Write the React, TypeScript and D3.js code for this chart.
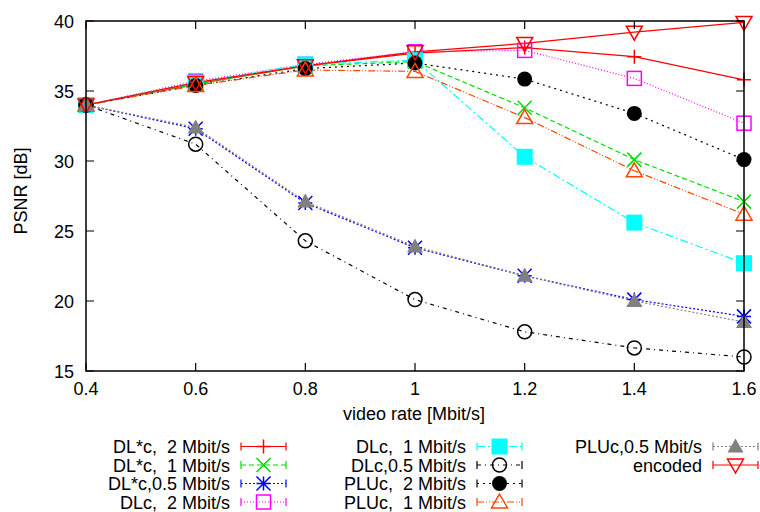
import React from 'react';
import * as d3 from 'd3';

const rates = [0.4, 0.6, 0.8, 1.0, 1.2, 1.4, 1.6];
const xTicks = [0.4, 0.6, 0.8, 1, 1.2, 1.4, 1.6];
const yTicks = [15, 20, 25, 30, 35, 40];

const dlStar2 = [34, 35.5, 36.8, 37.7, 38.1, 37.45, 35.8];
const dlStar1 = [34, 35.5, 36.8, 37.1, 33.8, 30.1, 27.1];
const dlStar05 = [34, 32.3, 27.0, 23.8, 21.8, 20.1, 18.9];
const dl2 = [34, 35.7, 36.9, 37.8, 37.9, 35.9, 32.7];
const dl1 = [34, 35.6, 36.9, 37.2, 30.3, 25.6, 22.7];
const dl05 = [34, 31.2, 24.3, 20.1, 17.8, 16.65, 16.0];
const plu2 = [34, 35.4, 36.6, 37.0, 35.85, 33.4, 30.1];
const plu1 = [34, 35.4, 36.5, 36.4, 33.1, 29.3, 26.2];
const plu05 = [34, 32.4, 27.1, 23.9, 21.8, 20.0, 18.5];
const encoded = [34, 35.6, 36.8, 37.8, 38.4, 39.2, 39.9];

type Series = { name: string; values: number[]; color: string; dash: string; marker: string };

const series: Series[] = [
  { name: 'DL*c,  2 Mbit/s', values: dlStar2, color: '#ff0000', dash: '', marker: 'plus' },
  { name: 'DL*c,  1 Mbit/s', values: dlStar1, color: '#00dd00', dash: '5,3', marker: 'cross' },
  { name: 'DL*c,0.5 Mbit/s', values: dlStar05, color: '#0000ff', dash: '2,2', marker: 'star' },
  { name: 'DLc,  2 Mbit/s', values: dl2, color: '#ff00ff', dash: '1,2', marker: 'square' },
  { name: 'DLc,  1 Mbit/s', values: dl1, color: '#00ffff', dash: '8,3,2,3', marker: 'fsquare' },
  { name: 'DLc,0.5 Mbit/s', values: dl05, color: '#000000', dash: '4,4,1,4', marker: 'circle' },
  { name: 'PLUc,  2 Mbit/s', values: plu2, color: '#000000', dash: '2,4', marker: 'fcircle' },
  { name: 'PLUc,  1 Mbit/s', values: plu1, color: '#ff4500', dash: '7,2,1,2,1,2', marker: 'triangle' },
  { name: 'PLUc,0.5 Mbit/s', values: plu05, color: '#808080', dash: '2,2', marker: 'ftriangle' },
  { name: 'encoded', values: encoded, color: '#ff0000', dash: '', marker: 'dtriangle' },
];

const margin = { left: 86, right: 16, top: 21, bottom: 141 };
const W = 760;
const H = 512;

const Marker = ({ kind, x, y, color }: { kind: string; x: number; y: number; color: string }) => {
  const r = 7;
  const sw = 1.5;
  switch (kind) {
    case 'plus':
      return <path d={`M${x - r},${y}H${x + r}M${x},${y - r}V${y + r}`} stroke={color} strokeWidth={sw} />;
    case 'cross':
      return <path d={`M${x - r},${y - r}L${x + r},${y + r}M${x - r},${y + r}L${x + r},${y - r}`} stroke={color} strokeWidth={sw} />;
    case 'star':
      return (
        <path
          d={`M${x - r},${y}H${x + r}M${x},${y - r}V${y + r}M${x - r},${y - r}L${x + r},${y + r}M${x - r},${y + r}L${x + r},${y - r}`}
          stroke={color}
          strokeWidth={sw}
        />
      );
    case 'square':
      return <rect x={x - r} y={y - r} width={2 * r} height={2 * r} fill="none" stroke={color} strokeWidth={sw} />;
    case 'fsquare':
      return <rect x={x - r - 1} y={y - r - 1} width={2 * r + 2} height={2 * r + 2} fill={color} />;
    case 'circle':
      return <circle cx={x} cy={y} r={r} fill="none" stroke={color} strokeWidth={sw} />;
    case 'fcircle':
      return <circle cx={x} cy={y} r={r + 0.5} fill={color} />;
    case 'triangle':
      return <path d={`M${x},${y - r - 1}L${x + r + 1},${y + r - 1}H${x - r - 1}Z`} fill="none" stroke={color} strokeWidth={sw} />;
    case 'ftriangle':
      return <path d={`M${x},${y - r - 1}L${x + r + 1},${y + r - 1}H${x - r - 1}Z`} fill={color} />;
    case 'dtriangle':
      return <path d={`M${x},${y + r + 1}L${x + r + 1},${y - r + 1}H${x - r - 1}Z`} fill="none" stroke={color} strokeWidth={sw} />;
    default:
      return null;
  }
};

const App = () => {
  const x = d3.scaleLinear().domain([0.4, 1.6]).range([margin.left, W - margin.right]);
  const y = d3.scaleLinear().domain([15, 40]).range([H - margin.bottom, margin.top]);
  const line = d3
    .line<number>()
    .x((_, i) => x(rates[i]))
    .y((d) => y(d));

  const font = 'Liberation Sans, Arial, sans-serif';
  const x0 = x.range()[0];
  const x1 = x.range()[1];
  const y0 = y.range()[0];
  const y1 = y.range()[1];

  // legend: 3 columns, 4 rows, text right aligned
  const colRight = [230, 466, 702];
  const rowY = [446.5, 465, 483.5, 502];

  return (
    <svg width={W} height={H} style={{ position: 'absolute', left: 0, top: 0 }} fontFamily={font} fontSize={18}>
      <rect width={W} height={H} fill="#fff" />
      {series.map((s) => (
        <path
          key={s.name}
          d={line(s.values) || ''}
          fill="none"
          stroke={s.color}
          strokeWidth={1.2}
          strokeDasharray={s.dash}
        />
      ))}
      {series.map((s) =>
        s.values.map((v, i) => <Marker key={s.name + i} kind={s.marker} x={x(rates[i])} y={y(v)} color={s.color} />)
      )}
      <rect x={x0} y={y1} width={x1 - x0} height={y0 - y1} fill="none" stroke="#000" strokeWidth={1.5} />
      {xTicks.map((t) => (
        <g key={'x' + t}>
          <path d={`M${x(t)},${y0}v-8M${x(t)},${y1}v8`} stroke="#000" strokeWidth={1.2} />
          <text x={x(t)} y={y0 + 24} textAnchor="middle">
            {t}
          </text>
        </g>
      ))}
      {yTicks.map((t) => (
        <g key={'y' + t}>
          <path d={`M${x0},${y(t)}h8M${x1},${y(t)}h-8`} stroke="#000" strokeWidth={1.2} />
          <text x={x0 - 12} y={y(t) + 6.5} textAnchor="end">
            {t}
          </text>
        </g>
      ))}
      <text x={414} y={420} textAnchor="middle">
        video rate [Mbit/s]
      </text>
      <text transform={`translate(27,191) rotate(-90)`} textAnchor="middle">
        PSNR [dB]
      </text>
      {series.map((s, i) => {
        const col = Math.floor(i / 4);
        const row = i % 4;
        const tx = colRight[col];
        const ty = rowY[row];
        const lx0 = tx + 11;
        const lx1 = tx + 56;
        return (
          <g key={'leg' + i}>
            <text x={tx} y={ty + 6.5} textAnchor="end" style={{ whiteSpace: 'pre' }}>
              {s.name}
            </text>
            <path d={`M${lx0},${ty}H${lx1}`} stroke={s.color} strokeWidth={1.2} strokeDasharray={s.dash} />
            <path d={`M${lx0},${ty - 4}v8M${lx1},${ty - 4}v8`} stroke={s.color} strokeWidth={1.2} />
            <Marker kind={s.marker} x={(lx0 + lx1) / 2} y={ty} color={s.color} />
          </g>
        );
      })}
    </svg>
  );
};

export default App;
